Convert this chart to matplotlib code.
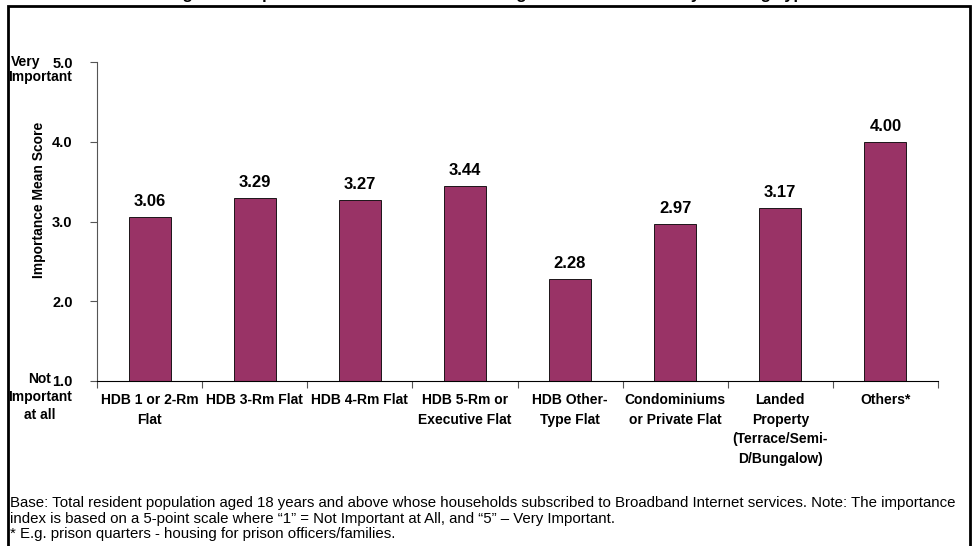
import matplotlib
matplotlib.use('Agg')
import matplotlib.pyplot as plt
from matplotlib.patches import Rectangle

plt.rcParams['font.family'] = ['Liberation Sans', 'DejaVu Sans']

# chart data
categories = ['HDB 1 or 2-Rm\nFlat', 'HDB 3-Rm Flat', 'HDB 4-Rm Flat',
              'HDB 5-Rm or\nExecutive Flat', 'HDB Other-\nType Flat',
              'Condominiums\nor Private Flat',
              'Landed\nProperty\n(Terrace/Semi-\nD/Bungalow)', 'Others*']
scores = [3.06, 3.29, 3.27, 3.44, 2.28, 2.97, 3.17, 4.00]
y_ticks = [1.0, 2.0, 3.0, 4.0, 5.0]

title = 'Figure 8: Importance of Location in Choosing a Service Provider by Housing Type'
footnote_lines = [
    'Base: Total resident population aged 18 years and above whose households subscribed to '
    'Broadband Internet services. Note: The importance',
    'index is based on a 5-point scale where \u201c1\u201d = Not Important at All, '
    'and \u201c5\u201d \u2013 Very Important.',
    '* E.g. prison quarters - housing for prison officers/families.',
]
low_label = ['Not', 'Important', 'at all']

bar_color = '#993366'
W, H = 973, 546

fig = plt.figure(figsize=(9.73, 5.46), dpi=100)
ax = fig.add_axes([97 / W, 1 - 381 / H, 841 / W, 319 / H])

x = list(range(len(categories)))
ax.bar(x, scores, width=0.40, color=bar_color, edgecolor='black', linewidth=0.6, zorder=2)

for xi, v in zip(x, scores):
    ax.text(xi, v + 0.10, f'{v:.2f}', ha='center', va='bottom', fontsize=12, fontweight='bold')

ax.set_xlim(-0.5, len(categories) - 0.5)
ax.set_ylim(1.0, 5.0)
ax.set_yticks(y_ticks)
ax.set_yticklabels([f'{t:.1f}' for t in y_ticks], fontsize=10.5, fontweight='bold')

# category labels between boundary ticks
ax.set_xticks([i - 0.5 for i in range(len(categories) + 1)])
ax.set_xticklabels([])
ax.set_xticks(x, minor=True)
ax.set_xticklabels(categories, minor=True, fontsize=10, fontweight='bold', linespacing=1.5, va='top')
ax.tick_params(axis='x', which='minor', length=0, pad=9)
ax.tick_params(axis='x', which='major', length=5, direction='out', color='#555555')
ax.tick_params(axis='y', length=5, direction='out', color='#555555', pad=12.5)

for s in ['top', 'right']:
    ax.spines[s].set_visible(False)
ax.spines['left'].set_color('#555555')
ax.spines['bottom'].set_color('#000000')

ax.set_ylabel('Importance Mean Score', fontsize=10, fontweight='bold')
ax.yaxis.set_label_coords((46 - 97) / 841, (381 - 200) / 319)

# scale end labels
fig.text(40 / W, 1 - 62 / H, 'Very', ha='right', va='center', fontsize=10, fontweight='bold')
fig.text(40 / W, 1 - 77 / H, 'Important', ha='center', va='center', fontsize=10, fontweight='bold')
for i, word in enumerate(low_label):
    fig.text(40 / W, 1 - (379 + 18 * i) / H, word, ha='center', va='center', fontsize=10,
             fontweight='bold')

# title sits mostly above the frame, only descenders show
fig.text(490 / W, 1 + 1.5 / H, title, ha='center', va='baseline', fontsize=12, fontweight='bold')

for i, line in enumerate(footnote_lines):
    fig.text(10 / W, 1 - (503 + 15.5 * i) / H, line, ha='left', va='center', fontsize=10.8)

# outer frame
fig.patches.append(Rectangle((8 / W, -0.02), 962 / W, 1.02 - 6 / H, transform=fig.transFigure,
                             fill=False, edgecolor='black', linewidth=2))

fig.savefig('out.png', dpi=100)
